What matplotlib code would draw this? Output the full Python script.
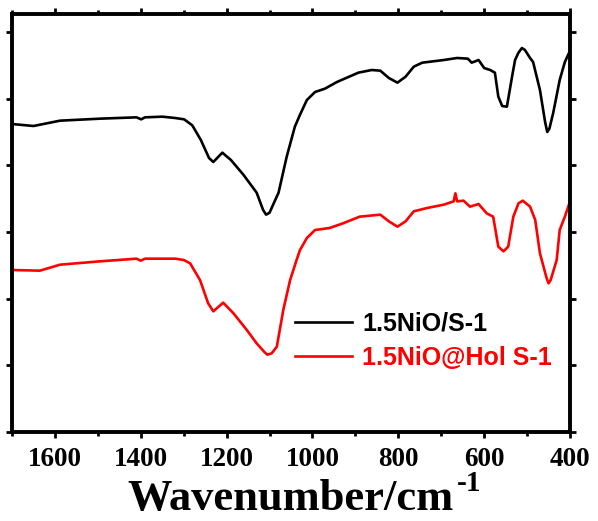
import matplotlib
matplotlib.use("Agg")
import matplotlib.pyplot as plt
from matplotlib.ticker import MultipleLocator

# FT-IR spectra, transmittance in arbitrary units
wn_a = [1700, 1650, 1588, 1495, 1410, 1399, 1390, 1350, 1320, 1299, 1280, 1260, 1241,
        1231, 1210, 1190, 1161, 1130, 1115, 1108, 1100, 1079, 1060, 1041, 1029, 1013,
        994, 971, 943, 893, 862, 842, 822, 802, 783, 764, 744, 694, 663, 638, 629,
        613, 600, 586, 575, 567, 558, 547, 535, 528, 520, 512, 505, 493, 486, 470,
        458, 453, 448, 439, 424, 412, 402]
tr_a = [46.2, 45.9, 46.7, 47.0, 47.2, 46.9, 47.2, 47.3, 47.1, 46.9, 46.0, 43.8, 41.1,
        40.5, 41.9, 40.8, 38.6, 35.9, 33.3, 32.6, 32.9, 35.9, 41.3, 45.8, 47.6, 49.8,
        51.0, 51.5, 52.5, 53.9, 54.3, 54.2, 53.1, 52.4, 53.3, 54.8, 55.4, 55.8, 56.1,
        56.0, 55.4, 55.8, 54.6, 54.3, 53.9, 50.3, 48.9, 48.8, 53.3, 55.8, 56.9, 57.6,
        57.3, 56.1, 55.5, 51.3, 46.5, 45.0, 45.5, 47.9, 52.8, 55.5, 56.9]

wn_b = [1700, 1635, 1588, 1495, 1410, 1400, 1390, 1320, 1300, 1285, 1262, 1243, 1231,
        1208, 1184, 1153, 1130, 1112, 1105, 1095, 1083, 1068, 1052, 1037, 1029, 1013,
        994, 960, 929, 890, 842, 822, 802, 783, 764, 733, 694, 671, 667, 663, 648,
        633, 613, 594, 579, 567, 555, 544, 532, 520, 510, 493, 481, 470, 455, 450,
        445, 431, 424, 412, 402]
tr_b = [24.3, 24.2, 25.1, 25.6, 26.0, 25.7, 26.0, 26.0, 25.8, 25.3, 22.8, 19.3, 18.1,
        19.4, 17.8, 15.3, 13.3, 12.0, 11.6, 11.8, 12.8, 18.3, 22.8, 25.8, 27.3, 29.1,
        30.3, 30.6, 31.3, 32.3, 32.6, 31.6, 30.8, 31.6, 33.1, 33.6, 34.1, 34.6, 35.8,
        34.6, 34.7, 33.8, 34.2, 32.8, 32.3, 27.8, 27.1, 27.8, 32.3, 34.3, 34.7, 33.8,
        31.8, 26.8, 23.2, 22.3, 22.8, 25.8, 30.3, 32.3, 34.2]

label_a = "1.5NiO/S-1"
label_b = "1.5NiO@Hol S-1"

fig = plt.figure(figsize=(5.98, 5.21), dpi=100)
ax = fig.add_axes([12 / 598, 1 - 432 / 521, 558 / 598, 418 / 521])

ax.plot(wn_a, tr_a, color="black", linewidth=1.9, label=label_a)
ax.plot(wn_b, tr_b, color="red", linewidth=1.9, label=label_b)

ax.set_xlim(1700, 400)
ax.set_ylim(0, 62.7)
ax.xaxis.set_major_locator(MultipleLocator(200))
ax.xaxis.set_minor_locator(MultipleLocator(100))
ax.yaxis.set_major_locator(MultipleLocator(10))

for side in ax.spines.values():
    side.set_linewidth(2.8)
ax.tick_params(which="both", direction="out", top=True, right=True, width=2,
               labelleft=False, labelright=False, labeltop=False)
ax.tick_params(which="major", length=4.5, pad=6)
ax.tick_params(which="minor", length=3)
for lbl in ax.get_xticklabels():
    lbl.set_fontfamily("Liberation Serif")
    lbl.set_fontweight("bold")
    lbl.set_fontsize(19.5)

ax.set_xlabel("Wavenumber/cm", fontfamily="Liberation Serif",
              fontweight="bold", fontsize=32, labelpad=5.5)

leg = ax.legend(loc="center left", bbox_to_anchor=(0.507, 0.218), frameon=False,
                borderpad=0, borderaxespad=0, handlelength=2.3, handletextpad=0.4,
                labelspacing=0.42, prop={"family": "Liberation Sans", "weight": "bold", "size": 18})
for txt, ln in zip(leg.get_texts(), leg.get_lines()):
    txt.set_color(ln.get_color())

# superscript -1 placed just after the axis label
fig.canvas.draw()
bb = ax.xaxis.label.get_window_extent()
fig.text((bb.x1 + 3) / 598, 30 / 521, "-1", fontfamily="Liberation Serif",
         fontweight="bold", fontsize=21, ha="left", va="baseline")

fig.savefig("out.png", dpi=100)
